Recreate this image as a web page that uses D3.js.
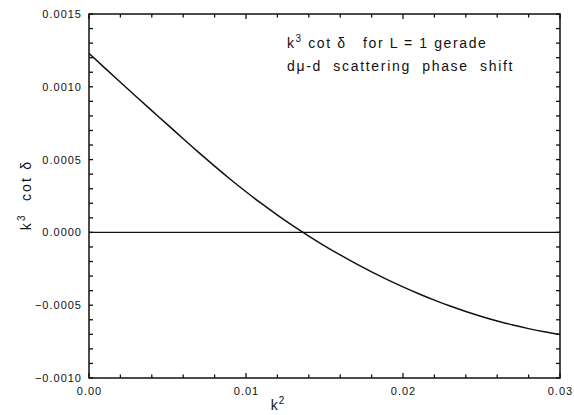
<!DOCTYPE html>
<html><head><meta charset="utf-8">
<script src="https://cdn.jsdelivr.net/npm/d3@7"></script>
<style>body{margin:0;background:#fff}svg{display:block}text{font-family:"Liberation Sans",Arial,sans-serif;fill:#111}</style>
</head><body><svg id="c" width="574" height="415"></svg>
<script>
const k2 = [0,0.001,0.002,0.003,0.004,0.005,0.006,0.007,0.008,0.009,0.010,0.011,0.012,0.013,0.014,0.015,0.016,0.017,0.018,0.019,0.020,0.021,0.022,0.023,0.024,0.025,0.026,0.027,0.028,0.029,0.030];
const k3cot = [0.001230,0.001130,0.001031,0.000933,0.000836,0.000740,0.000643,0.000548,0.000455,0.000365,0.000279,0.000197,0.000119,0.000045,-0.000025,-0.000092,-0.000155,-0.000215,-0.000271,-0.000324,-0.000374,-0.000421,-0.000465,-0.000506,-0.000543,-0.000577,-0.000608,-0.000636,-0.000661,-0.000683,-0.000702];
const zeroX = [0, 0.03];
const zeroY = [0, 0];
const xTicks = [0, 0.01, 0.02, 0.03];
const yTicks = [-0.0010, -0.0005, 0.0000, 0.0005, 0.0010, 0.0015];
const titleLine1 = ["k", "3", " cot δ   for L = 1 gerade"];
const titleLine2 = "dμ-d  scattering  phase  shift";

const svg = d3.select("#c");
const L = 89, R = 560, T = 14, B = 378;
const x = d3.scaleLinear().domain([0, 0.03]).range([L, R]);
const y = d3.scaleLinear().domain([-0.001, 0.0015]).range([B, T]);

const xMinor = d3.range(0, 16).map(i => i * 0.002);
const yMinor = d3.range(0, 26).map(i => -0.001 + i * 0.0001);
const isMajorX = v => Math.abs(v / 0.01 - Math.round(v / 0.01)) < 1e-6;

const ticks = svg.append("g").attr("stroke", "#111").attr("stroke-width", 1.3);
xMinor.forEach(v => {
  const len = isMajorX(v) ? 5 : 3.5;
  ticks.append("line").attr("x1", x(v)).attr("x2", x(v)).attr("y1", B).attr("y2", B - len);
  ticks.append("line").attr("x1", x(v)).attr("x2", x(v)).attr("y1", T).attr("y2", T + len);
});
yMinor.forEach(v => {
  ticks.append("line").attr("x1", L).attr("x2", L + 4).attr("y1", y(v)).attr("y2", y(v));
  ticks.append("line").attr("x1", R).attr("x2", R - 4).attr("y1", y(v)).attr("y2", y(v));
});

// frame
svg.append("rect").attr("x", L).attr("y", T).attr("width", R - L).attr("height", B - T)
  .attr("fill", "none").attr("stroke", "#111").attr("stroke-width", 1.5);

// tick labels
const bl = svg.append("g").attr("transform", `translate(0,${B})`)
  .call(d3.axisBottom(x).tickValues(xTicks).tickSize(0).tickPadding(9).tickFormat(d3.format(".2f")));
bl.select(".domain").remove();
bl.selectAll("text").attr("font-size", 11).attr("letter-spacing", 1)
  .attr("font-family", "Liberation Sans, Arial, sans-serif").attr("fill", "#111");
const lt = svg.append("g").attr("transform", `translate(${L},0)`)
  .call(d3.axisLeft(y).tickValues(yTicks).tickSize(0).tickPadding(7).tickFormat(d3.format(".4f")));
lt.select(".domain").remove();
lt.selectAll("text").attr("font-size", 11).attr("letter-spacing", 1)
  .attr("font-family", "Liberation Sans, Arial, sans-serif").attr("fill", "#111");

// lines
const line = d3.line().x(d => x(d[0])).y(d => y(d[1]));
svg.append("path").datum(zeroX.map((v, i) => [v, zeroY[i]])).attr("d", line)
  .attr("fill", "none").attr("stroke", "#111").attr("stroke-width", 1.4);
svg.append("path").datum(k2.map((v, i) => [v, k3cot[i]]))
  .attr("d", d3.line().x(d => x(d[0])).y(d => y(d[1])).curve(d3.curveNatural))
  .attr("fill", "none").attr("stroke", "#111").attr("stroke-width", 1.5);

// axis titles
const xl = svg.append("text").attr("x", 278).attr("y", 410).attr("text-anchor", "middle")
  .attr("font-size", 14).attr("letter-spacing", 1);
xl.append("tspan").text("k");
xl.append("tspan").attr("dy", -6).attr("font-size", 10).text("2");
const yl = svg.append("text").attr("transform", "translate(31,195) rotate(-90)").attr("text-anchor", "middle")
  .attr("font-size", 14).attr("letter-spacing", 2.2).attr("xml:space", "preserve");
yl.append("tspan").text("k");
yl.append("tspan").attr("dy", -6).attr("font-size", 10).text("3");
yl.append("tspan").attr("dy", 6).text("  cot δ");

// annotation
const t1 = svg.append("text").attr("x", 287).attr("y", 48).attr("font-size", 14)
  .attr("letter-spacing", 1.6).attr("xml:space", "preserve");
t1.append("tspan").text(titleLine1[0]);
t1.append("tspan").attr("dy", -6).attr("font-size", 10).text(titleLine1[1]);
t1.append("tspan").attr("dy", 6).text(titleLine1[2]);
svg.append("text").attr("x", 287).attr("y", 71).attr("font-size", 14)
  .attr("letter-spacing", 1.7).attr("xml:space", "preserve").text(titleLine2);
</script></body></html>
